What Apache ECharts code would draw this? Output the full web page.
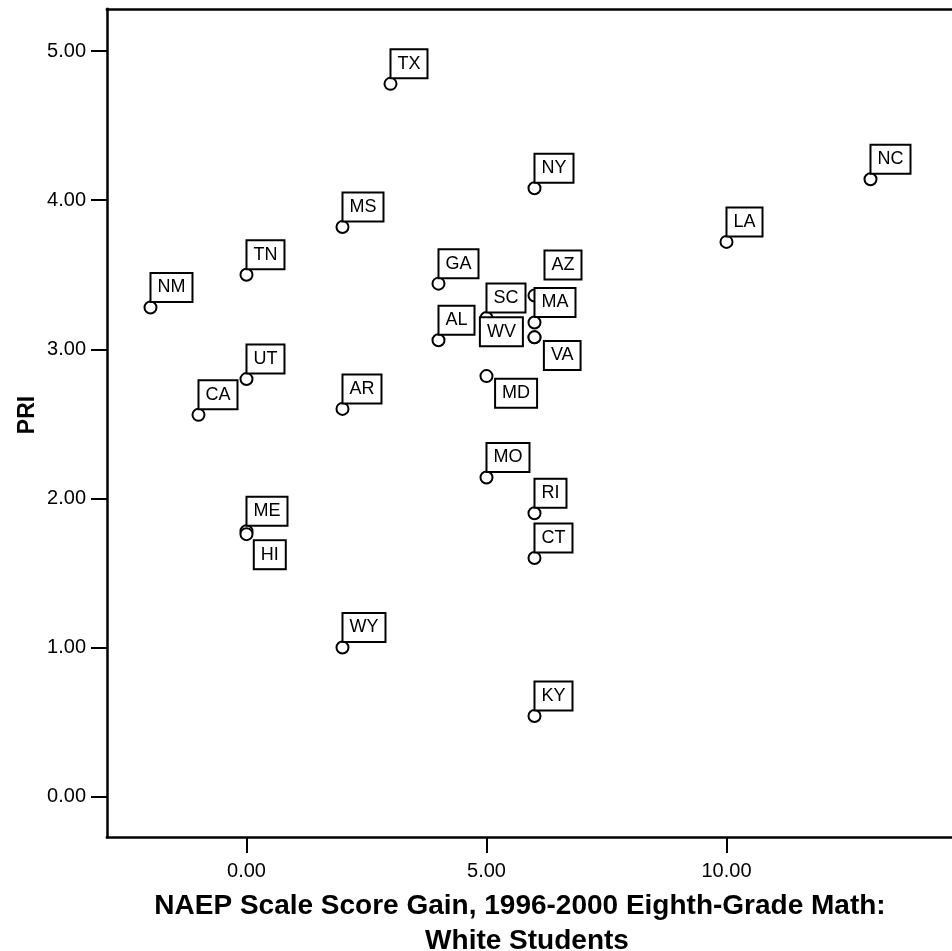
<!DOCTYPE html>
<html>
<head>
<meta charset="utf-8">
<script src="https://cdn.jsdelivr.net/npm/echarts@6/dist/echarts.min.js"></script>
<style>
html,body{margin:0;padding:0;background:#fff;}
#chart{width:952px;height:951px;}
</style>
</head>
<body>
<div id="chart"></div>
<script>
// ---- data ----
const states   = ['TX','NY','NC','LA','MS','TN','NM','GA','AZ','SC','MA','AL','WV','VA','MD','UT','CA','AR','MO','RI','CT','ME','HI','WY','KY'];
const naepGain = [3, 6, 13, 10, 2, 0, -2, 4, 6, 5, 6, 4, 6, 6, 5, 0, -1, 2, 5, 6, 6, 0, 0, 2, 6];
const pri      = [4.78, 4.08, 4.14, 3.72, 3.82, 3.50, 3.28, 3.44, 3.36, 3.21, 3.18, 3.06, 3.08, 3.08, 2.82, 2.80, 2.56, 2.60, 2.14, 1.90, 1.60, 1.78, 1.76, 1.00, 0.54];
const xTicks = [0, 5, 10];
const yTicks = [0, 1, 2, 3, 4, 5];
const xTitle1 = 'NAEP Scale Score Gain, 1996-2000 Eighth-Grade Math:';
const xTitle2 = 'White Students';
const yTitle = 'PRI';

// ---- layout (label box bottom-left relative to point centre) ----
const defaultOffset = [2, -5.5];
const labelOffsets = { AZ: [12, -16], WV: [-52.6, 9], VA: [11.4, 32.6], MD: [10.6, 31.6], HI: [9.3, 35] };

const FONT = '"Liberation Sans", Arial, Helvetica, sans-serif';
const X_MIN = -2.906, X_MAX = 14.698, Y_MIN = -0.271, Y_MAX = 5.282;
const half = 6;
const points = states.map((s, i) => {
  const o = labelOffsets[s] || defaultOffset;
  return {
    name: s,
    value: [naepGain[i], pri[i]],
    label: { position: [half + o[0], half + o[1]] }
  };
});

const AXIS_LINE = { show: true, onZero: false, lineStyle: { color: '#000', width: 2.5, cap: 'square' } };

const chart = echarts.init(document.getElementById('chart'), null, { renderer: 'canvas' });
chart.setOption({
  backgroundColor: '#ffffff',
  animation: false,
  grid: { left: 107, right: 0, top: 9, bottom: 114, show: false },
  xAxis: [{
    type: 'value', position: 'bottom',
    min: X_MIN, max: X_MAX,
    splitLine: { show: false },
    axisLine: AXIS_LINE,
    axisTick: { show: true, length: 16, lineStyle: { color: '#000', width: 2 }, customValues: xTicks },
    axisLabel: {
      show: true, margin: 24, color: '#000', fontSize: 20, fontFamily: FONT,
      customValues: xTicks, formatter: v => Number(v).toFixed(2)
    }
  }, {
    type: 'value', position: 'top',
    min: X_MIN, max: X_MAX,
    splitLine: { show: false },
    axisLine: AXIS_LINE,
    axisTick: { show: false },
    axisLabel: { show: false }
  }],
  yAxis: {
    type: 'value', position: 'left',
    min: Y_MIN, max: Y_MAX,
    splitLine: { show: false },
    axisLine: AXIS_LINE,
    axisTick: { show: true, length: 16, lineStyle: { color: '#000', width: 2 }, customValues: yTicks },
    axisLabel: {
      show: true, margin: 21, color: '#000', fontSize: 20, fontFamily: FONT,
      customValues: yTicks, formatter: v => Number(v).toFixed(2)
    }
  },
  series: [{
    type: 'scatter',
    xAxisIndex: 0,
    symbol: 'circle',
    symbolSize: 12,
    itemStyle: { color: '#fff', borderColor: '#000', borderWidth: 2, opacity: 1 },
    label: {
      show: true,
      formatter: p => p.name,
      align: 'left',
      verticalAlign: 'bottom',
      color: '#000',
      fontSize: 18,
      lineHeight: 19,
      fontFamily: FONT,
      backgroundColor: '#fff',
      borderColor: '#000',
      borderWidth: 2,
      padding: [4, 6, 4, 6]
    },
    emphasis: { disabled: true },
    data: points
  }],
  graphic: [
    {
      type: 'text', x: 520, y: 906,
      style: { text: xTitle1, font: 'bold 28px ' + FONT, fill: '#000', align: 'center', verticalAlign: 'middle', textAlign: 'center', textVerticalAlign: 'middle' }
    },
    {
      type: 'text', x: 527, y: 941,
      style: { text: xTitle2, font: 'bold 28px ' + FONT, fill: '#000', align: 'center', verticalAlign: 'middle', textAlign: 'center', textVerticalAlign: 'middle' }
    },
    {
      type: 'text', x: 28, y: 415, rotation: Math.PI / 2,
      style: { text: yTitle, font: 'bold 23px ' + FONT, fill: '#000', align: 'center', verticalAlign: 'middle', textAlign: 'center', textVerticalAlign: 'middle' }
    }
  ]
});
</script>
</body>
</html>
